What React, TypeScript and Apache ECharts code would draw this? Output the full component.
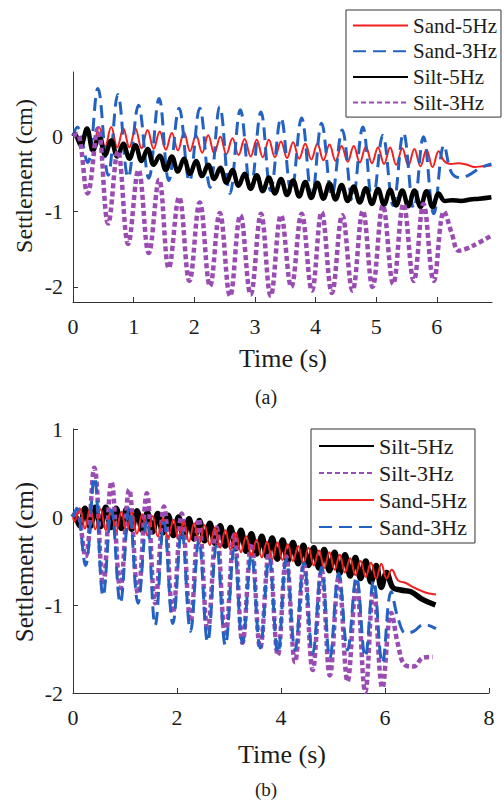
import React, { useEffect, useRef } from "react";
import * as echarts from "echarts";

// Sampling instants (s) shared by the 5 Hz and 3 Hz records: alternating crest / trough
const fiveHzTimes = [
  0, 0.03, 0.13, 0.23, 0.33, 0.43, 0.53, 0.63, 0.73, 0.83,
  0.93, 1.03, 1.13, 1.23, 1.33, 1.43, 1.53, 1.63, 1.73, 1.83,
  1.93, 2.03, 2.13, 2.23, 2.33, 2.43, 2.53, 2.63, 2.73, 2.83,
  2.93, 3.03, 3.13, 3.23, 3.33, 3.43, 3.53, 3.63, 3.73, 3.83,
  3.93, 4.03, 4.13, 4.23, 4.33, 4.43, 4.53, 4.63, 4.73, 4.83,
  4.93, 5.03, 5.13, 5.23, 5.33, 5.43, 5.53, 5.63, 5.73, 5.83,
  5.93, 6.03,
];
const threeHzTimes = [
  0, 0.07, 0.24, 0.41, 0.58, 0.74, 0.91, 1.08, 1.25, 1.42,
  1.58, 1.75, 1.92, 2.09, 2.26, 2.42, 2.59, 2.76, 2.93, 3.1,
  3.26, 3.43, 3.6, 3.77, 3.94, 4.1, 4.27, 4.44, 4.61, 4.78,
  4.94, 5.11, 5.28, 5.45, 5.62, 5.78, 5.95, 6.12,
];

// Panel (a) settlements (cm)
const aSand5 = [
  0, 0.03, -0.1, 0.1, -0.13, 0.12, -0.14, 0.12, -0.15, 0.1,
  -0.15, 0.1, -0.16, 0.08, -0.17, 0.06, -0.18, 0.04, -0.19, 0.05,
  -0.2, 0.01, -0.22, 0.01, -0.23, -0.01, -0.24, -0.03, -0.25, -0.04,
  -0.27, -0.05, -0.28, -0.05, -0.28, -0.07, -0.29, -0.08, -0.3, -0.1,
  -0.31, -0.1, -0.32, -0.11, -0.33, -0.13, -0.34, -0.13, -0.35, -0.14,
  -0.36, -0.15, -0.37, -0.15, -0.38, -0.16, -0.39, -0.17, -0.4, -0.18,
  -0.41, -0.2,
];
const aSand5Tail = [[6.12, -0.33], [6.22, -0.37], [6.35, -0.36], [6.5, -0.38], [6.62, -0.41], [6.75, -0.4], [6.9, -0.39]];

const aSilt5 = [
  0, 0.02, -0.12, 0.1, -0.19, -0.01, -0.25, -0.06, -0.27, -0.1,
  -0.3, -0.12, -0.33, -0.17, -0.38, -0.26, -0.45, -0.27, -0.47, -0.3,
  -0.5, -0.33, -0.53, -0.38, -0.57, -0.42, -0.62, -0.45, -0.66, -0.5,
  -0.7, -0.52, -0.73, -0.55, -0.76, -0.57, -0.78, -0.59, -0.8, -0.61,
  -0.82, -0.62, -0.83, -0.63, -0.84, -0.65, -0.86, -0.67, -0.88, -0.69,
  -0.9, -0.7, -0.91, -0.71, -0.92, -0.72, -0.93, -0.72, -0.94, -0.73,
  -0.94, -0.76,
];
const aSilt5Tail = [[6.13, -0.86], [6.25, -0.85], [6.4, -0.86], [6.55, -0.84], [6.7, -0.83], [6.9, -0.81]];

const aSand3 = [
  0, 0.12, -0.35, 0.63, -0.52, 0.55, -0.55, 0.41, -0.56, 0.5,
  -0.59, 0.37, -0.6, 0.37, -0.68, 0.39, -0.76, 0.35, -0.7, 0.32,
  -0.72, 0.24, -0.75, 0.24, -0.8, 0.17, -0.78, 0.08, -0.85, 0.12,
  -0.88, 0.01, -0.92, 0.04, -0.96, -0.01, -1.03, -0.12,
];
const aSand3Tail = [[6.24, -0.48], [6.38, -0.55], [6.52, -0.52], [6.72, -0.42], [6.9, -0.37]];

const aSilt3 = [
  0, 0.03, -0.76, 0.1, -1.16, -0.2, -1.43, -0.45, -1.55, -0.58,
  -1.75, -0.81, -1.92, -0.88, -1.99, -1.02, -2.12, -1.05, -2.1, -1.03,
  -2.12, -1.05, -2.0, -1.03, -2.05, -1.01, -2.08, -1.05, -2.05, -0.99,
  -2.0, -0.92, -1.96, -0.9, -1.92, -0.9, -1.92, -1.0,
];
const aSilt3Tail = [[6.25, -1.3], [6.36, -1.52], [6.5, -1.49], [6.7, -1.41], [6.88, -1.33]];

// Panel (b) settlements (cm)
const bSilt5 = [
  0, 0.02, -0.1, 0.1, -0.11, 0.11, -0.11, 0.11, -0.12, 0.1,
  -0.13, 0.09, -0.14, 0.07, -0.15, 0.05, -0.17, 0.04, -0.18, 0.02,
  -0.21, 0.0, -0.23, -0.02, -0.25, -0.04, -0.27, -0.07, -0.3, -0.1,
  -0.33, -0.12, -0.36, -0.15, -0.39, -0.19, -0.42, -0.22, -0.45, -0.24,
  -0.48, -0.26, -0.5, -0.29, -0.53, -0.32, -0.55, -0.35, -0.58, -0.37,
  -0.61, -0.4, -0.64, -0.43, -0.67, -0.46, -0.7, -0.5, -0.74, -0.55,
  -0.8, -0.63,
];
const bSilt5Tail = [[6.15, -0.8], [6.3, -0.83], [6.5, -0.85], [6.7, -0.93], [6.97, -1.0]];

const bSand5 = [
  0, -0.05, 0.1, -0.13, 0.1, -0.14, 0.09, -0.15, 0.08, -0.16,
  0.06, -0.17, 0.05, -0.19, 0.03, -0.21, 0.01, -0.22, -0.01, -0.24,
  -0.03, -0.26, -0.05, -0.28, -0.07, -0.3, -0.09, -0.32, -0.12, -0.35,
  -0.15, -0.37, -0.18, -0.4, -0.22, -0.44, -0.26, -0.46, -0.28, -0.48,
  -0.29, -0.49, -0.31, -0.5, -0.33, -0.53, -0.35, -0.55, -0.38, -0.58,
  -0.4, -0.6, -0.43, -0.63, -0.47, -0.66, -0.5, -0.68, -0.52, -0.7,
  -0.53, -0.7,
];
const bSand5Tail = [[6.13, -0.6], [6.25, -0.72], [6.4, -0.75], [6.55, -0.8], [6.7, -0.84], [6.85, -0.87], [6.98, -0.88]];

const bSand3 = [
  0, 0.1, -0.55, 0.45, -0.9, 0.08, -0.98, 0.1, -0.98, -0.03,
  -1.23, -0.06, -1.21, -0.15, -1.3, -0.26, -1.42, -0.32, -1.46, -0.36,
  -1.43, -0.43, -1.49, -0.47, -1.55, -0.48, -1.51, -0.52, -1.55, -0.57,
  -1.6, -0.64, -1.51, -0.68, -1.59, -0.72, -1.66, -0.85,
];
const bSand3Tail = [[6.25, -1.15], [6.4, -1.32], [6.55, -1.3], [6.75, -1.22], [6.98, -1.27]];

const bSilt3 = [
  0, 0.08, -0.45, 0.56, -0.77, 0.4, -0.81, 0.31, -0.87, 0.27,
  -0.98, 0.12, -1.09, 0.04, -1.19, -0.02, -1.3, -0.12, -1.36, -0.2,
  -1.43, -0.3, -1.49, -0.4, -1.57, -0.45, -1.65, -0.53, -1.74, -0.6,
  -1.8, -0.68, -1.87, -0.75, -1.99, -0.8, -1.94, -1.09,
];
const bSilt3Tail = [[6.25, -1.45], [6.38, -1.68], [6.55, -1.7], [6.73, -1.6], [6.92, -1.59]];

// Axis ticks
const aTimeTicks = [0, 1, 2, 3, 4, 5, 6];
const aSettleTicks = [-2, -1, 0];
const bTimeTicks = [0, 2, 4, 6, 8];
const bSettleTicks = [-2, -1, 0, 1];

const legendA = ["Sand-5Hz", "Sand-3Hz", "Silt-5Hz", "Silt-3Hz"];
const legendB = ["Silt-5Hz", "Silt-3Hz", "Sand-5Hz", "Sand-3Hz"];

const SERIF = "Liberation Serif";
const INK = "#1c1c1c";

const lineStyles: Record<string, any> = {
  "Sand-5Hz": { color: "#f2201e", width: 2, type: "solid" },
  "Sand-3Hz": { color: "#2462c2", width: 3, type: [13, 7] },
  "Silt-5Hz": { color: "#000000", width: 4.5, type: "solid" },
  "Silt-3Hz": { color: "#9a4cb2", width: 4.5, type: [5, 3] },
};

function record(times: number[], values: number[], tail: number[][]) {
  return times.map((t, i) => [t, values[i]]).concat(tail);
}

function makeSeries(name: string, grid: number, data: number[][], widthOverride?: number) {
  const ls = lineStyles[name];
  return {
    name,
    type: "line",
    xAxisIndex: grid,
    yAxisIndex: grid,
    data,
    smooth: 0.4,
    symbol: "none",
    showSymbol: false,
    color: ls.color,
    lineStyle: { ...ls, width: widthOverride ?? ls.width, cap: "butt" },
    emphasis: { disabled: true },
  };
}

function axisX(grid: number, max: number, ticks: number[]) {
  return {
    type: "value",
    gridIndex: grid,
    min: 0,
    max,
    axisLine: { show: true, onZero: false, lineStyle: { color: "#333", width: 1 } },
    axisTick: { show: true, inside: true, length: 5, customValues: ticks, lineStyle: { color: "#333" } },
    axisLabel: { customValues: ticks, fontFamily: SERIF, fontSize: 22, color: INK, margin: 13 },
    splitLine: { show: false },
  };
}

function axisY(grid: number, min: number, max: number, ticks: number[]) {
  return {
    type: "value",
    gridIndex: grid,
    min,
    max,
    axisLine: { show: true, onZero: false, lineStyle: { color: "#333", width: 1 } },
    axisTick: { show: true, inside: true, length: 5, customValues: ticks, lineStyle: { color: "#333" } },
    axisLabel: { customValues: ticks, fontFamily: SERIF, fontSize: 22, color: INK, margin: 10 },
    splitLine: { show: false },
  };
}

function legendBox(data: string[], left: number, top: number, fontSize: number, gap: number, padding: number[]) {
  return {
    data,
    orient: "vertical",
    left,
    top,
    itemWidth: 55,
    itemHeight: 14,
    itemGap: gap,
    padding,
    backgroundColor: "#ffffff",
    borderColor: "#333",
    borderWidth: 1,
    selectedMode: false,
    // keep only the line sample in each legend key
    itemStyle: { opacity: 0, borderWidth: 0 },
    textStyle: { fontFamily: SERIF, fontSize, color: INK },
  };
}

function caption(text: string, x: number, y: number, size: number, rotate = false) {
  return {
    type: "text",
    x,
    y,
    rotation: rotate ? Math.PI / 2 : 0,
    style: {
      text,
      fill: INK,
      fontFamily: SERIF,
      fontSize: size,
      align: "center",
      verticalAlign: "middle",
    },
  };
}

export default function App() {
  const ref = useRef<HTMLDivElement>(null);

  useEffect(() => {
    if (!ref.current) return;
    const chart = echarts.init(ref.current, undefined, { renderer: "svg" });

    const option = {
      animation: false,
      backgroundColor: "#ffffff",
      grid: [
        { left: 73, top: 72, width: 419, height: 230 },
        { left: 73, top: 429, width: 416, height: 264 },
      ],
      xAxis: [axisX(0, 6.91, aTimeTicks), axisX(1, 8, bTimeTicks)],
      yAxis: [axisY(0, -2.2, 0.85, aSettleTicks), axisY(1, -2, 1, bSettleTicks)],
      legend: [
        legendBox(legendA, 346, 10, 21, 4.7, [5, 4, 4, 6]),
        legendBox(legendB, 311, 429, 22, 5, [6, 8, 5, 7]),
      ],
      series: [
        makeSeries("Sand-5Hz", 0, record(fiveHzTimes, aSand5, aSand5Tail)),
        makeSeries("Sand-3Hz", 0, record(threeHzTimes, aSand3, aSand3Tail)),
        makeSeries("Silt-5Hz", 0, record(fiveHzTimes, aSilt5, aSilt5Tail)),
        makeSeries("Silt-3Hz", 0, record(threeHzTimes, aSilt3, aSilt3Tail)),
        makeSeries("Silt-5Hz", 1, record(fiveHzTimes, bSilt5, bSilt5Tail), 5.5),
        makeSeries("Silt-3Hz", 1, record(threeHzTimes, bSilt3, bSilt3Tail)),
        makeSeries("Sand-5Hz", 1, record(fiveHzTimes, bSand5, bSand5Tail)),
        makeSeries("Sand-3Hz", 1, record(threeHzTimes, bSand3, bSand3Tail)),
      ],
      graphic: [
        caption("Settlement (cm)", 24, 176, 24, true),
        caption("Time (s)", 283, 358, 26),
        caption("(a)", 266, 397, 20),
        caption("Settlement (cm)", 24, 562, 25, true),
        caption("Time (s)", 282, 754, 26),
        caption("(b)", 266, 789, 19),
      ],
    };

    chart.setOption(option as any);
    return () => chart.dispose();
  }, []);

  return (
    <div
      ref={ref}
      style={{ position: "fixed", left: 0, top: 0, width: 504, height: 801, background: "#ffffff" }}
    />
  );
}
